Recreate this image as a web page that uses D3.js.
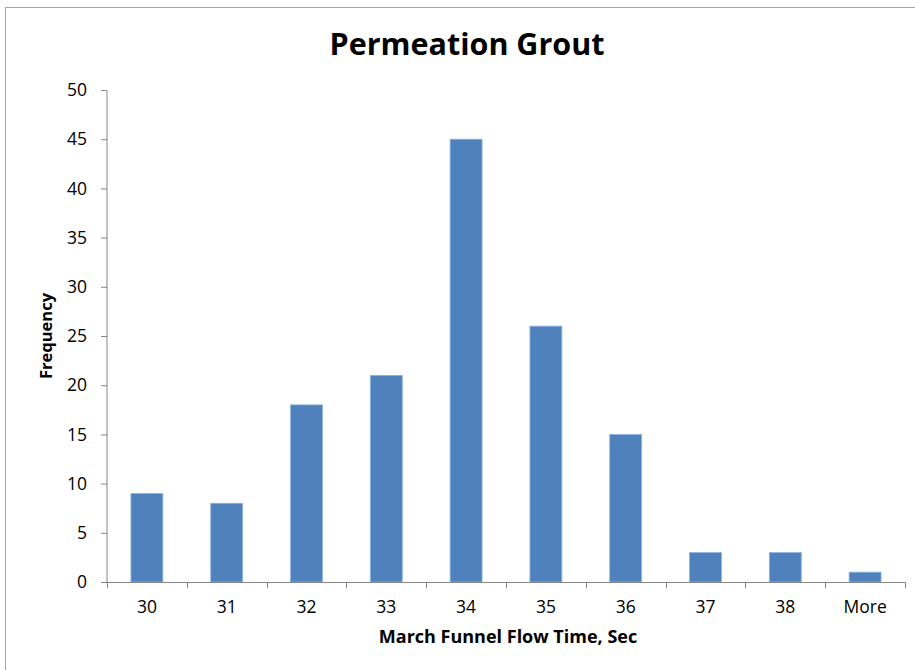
<!DOCTYPE html>
<html><head><meta charset="utf-8">
<script src="https://cdn.jsdelivr.net/npm/d3@7"></script>
<style>
body{margin:0;background:#fff;}
text{font-family:"Open Sans",Lato,sans-serif;}
</style></head>
<body><svg id="c" width="915" height="670"></svg>
<script>
const categories = ["30","31","32","33","34","35","36","37","38","More"];
const frequency = [9,8,18,21,45,26,15,3,3,1];
const yTicks = [0,5,10,15,20,25,30,35,40,45,50];
const titleText = "Permeation Grout";
const xTitle = "March Funnel Flow Time, Sec";
const yTitle = "Frequency";

const svg = d3.select("#c");
// chart border
svg.append("rect").attr("x",5.5).attr("y",7.5).attr("width",930).attr("height",680)
  .attr("fill","none").attr("stroke","#a6a6a6").attr("stroke-width",1);

const m = {left:107, right:905, top:90, bottom:582};
const x = d3.scaleBand().domain(categories).range([m.left,m.right]).paddingInner(0.6).paddingOuter(0.3);
const xb = d3.scaleBand().domain(categories).range([m.left,m.right]);
const y = d3.scaleLinear().domain([0,50]).range([m.bottom,m.top]);

svg.append("text").attr("x",467).attr("y",55).attr("text-anchor","middle")
  .attr("font-size",30.5).attr("font-weight","bold").attr("fill","#000").text(titleText);

// bars
svg.append("g").selectAll("rect").data(frequency).join("rect")
  .attr("x",(d,i)=>x(categories[i])).attr("y",d=>y(d))
  .attr("width",x.bandwidth()).attr("height",d=>m.bottom-y(d))
  .attr("fill","#4f81bd").attr("stroke","#8eb4e3").attr("stroke-width",0.8);

// y axis
const yAxis = svg.append("g").attr("transform",`translate(${m.left},0)`)
  .call(d3.axisLeft(y).tickValues(yTicks).tickSize(6).tickPadding(14));
yAxis.selectAll("text").attr("font-size",17.5).attr("fill","#000");
yAxis.selectAll("line,path").attr("stroke","#868686");
yAxis.select(".domain").attr("d",`M0,${m.top+0.5}V${m.bottom}`);

// x axis
const xAxis = svg.append("g").attr("transform",`translate(0,${m.bottom})`);
xAxis.append("line").attr("x1",m.left).attr("x2",m.right).attr("y1",0.5).attr("y2",0.5).attr("stroke","#868686");
const bounds = categories.map(c=>xb(c)).concat([m.right]);
xAxis.selectAll("line.t").data(bounds).join("line").attr("class","t")
  .attr("x1",d=>Math.round(d)+0.5).attr("x2",d=>Math.round(d)+0.5).attr("y1",0).attr("y2",6).attr("stroke","#868686");
xAxis.selectAll("text").data(categories).join("text")
  .attr("x",d=>xb(d)+xb.bandwidth()/2).attr("y",31).attr("text-anchor","middle")
  .attr("font-size",17.5).attr("fill","#000").text(d=>d);

svg.append("text").attr("x",508).attr("y",643).attr("text-anchor","middle")
  .attr("font-size",18).attr("font-weight","bold").attr("fill","#000").text(xTitle);
svg.append("text").attr("transform",`translate(52,${(m.top+m.bottom)/2}) rotate(-90)`)
  .attr("text-anchor","middle").attr("font-size",16.5).attr("font-weight","bold").attr("fill","#000").text(yTitle);
</script></body></html>
